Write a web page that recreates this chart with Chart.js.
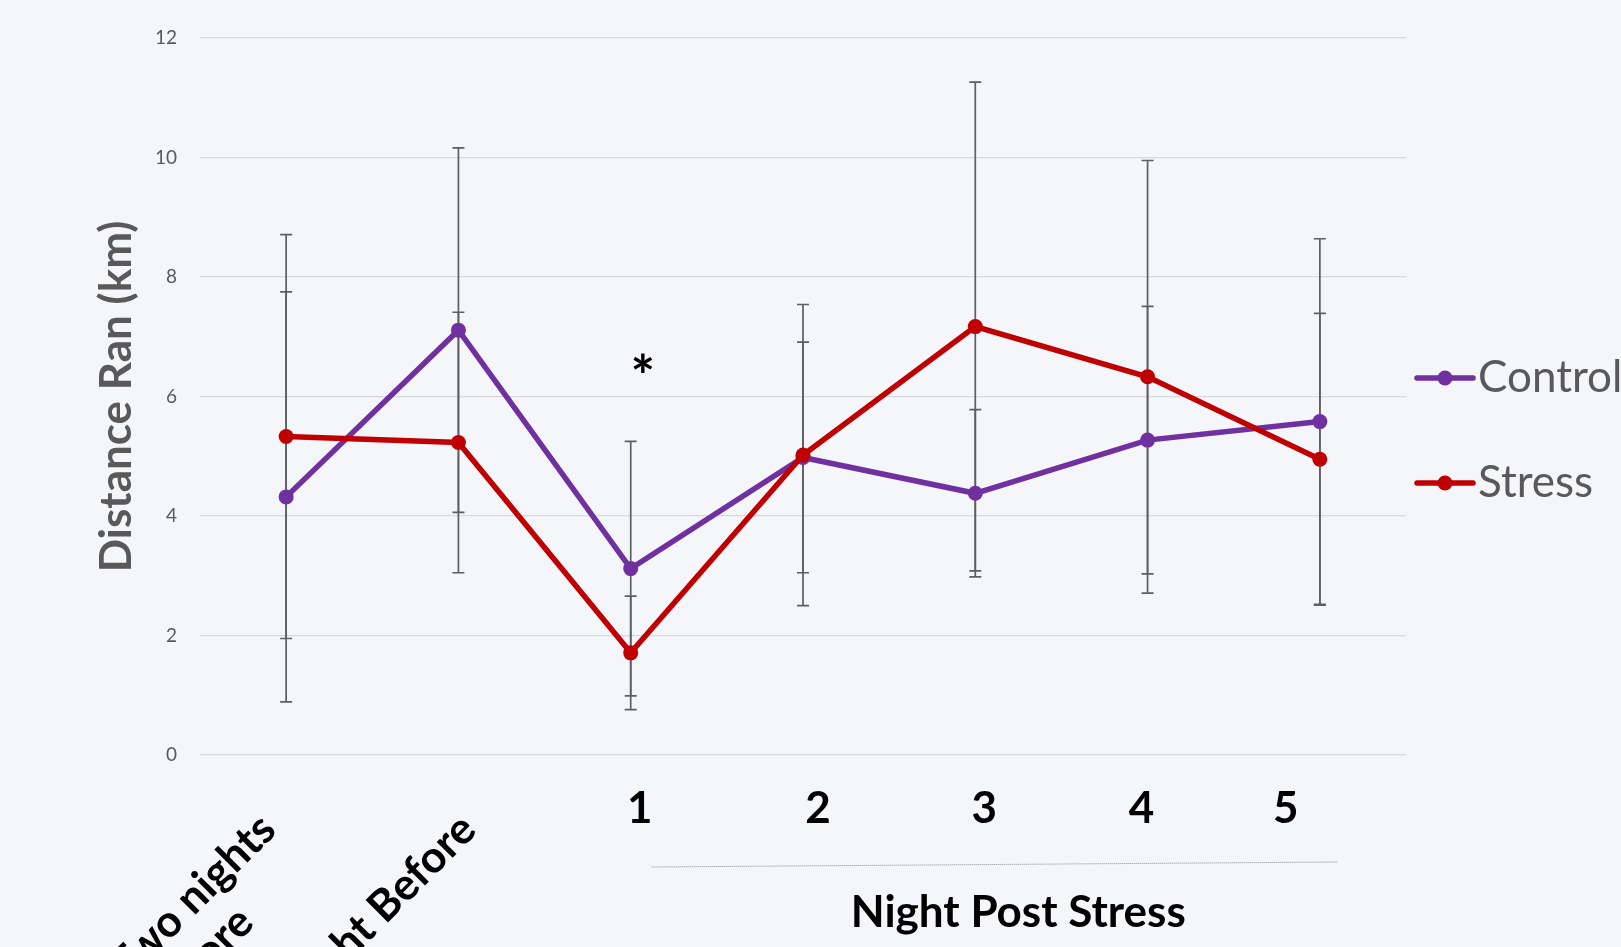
<!DOCTYPE html>
<html>
<head>
<meta charset="utf-8">
<title>Distance Ran</title>
<script src="https://cdn.jsdelivr.net/npm/chart.js@4.4.1/dist/chart.umd.min.js"></script>
<style>
  html, body { margin: 0; padding: 0; background: #F4F6FA; }
  #wrap { width: 1621px; height: 947px; position: relative; }
</style>
</head>
<body>
<div id="wrap"><canvas id="distanceChart"></canvas></div>
<script>
// categories (first label wraps onto two lines)
const nights = [['Two nights', 'Before'], 'Night Before', '1', '2', '3', '4', '5'];

// mean distance and error (km)
const controlMean = [4.32, 7.11, 3.12, 4.98, 4.38, 5.27, 5.58];
const controlErr  = [3.43, 3.05, 2.13, 1.93, 1.40, 2.24, 3.06];
const stressMean  = [5.33, 5.23, 1.71, 5.02, 7.17, 6.33, 4.95];
const stressErr   = [3.38, 2.18, 0.95, 2.52, 4.09, 3.62, 2.44];

const yTicks = [0, 2, 4, 6, 8, 10, 12];
const xTitle = 'Night Post Stress';
const yTitle = 'Distance Ran (km)';
const starNight = 2;   // night 1 is marked significant
const starLevel = 6.0;

const FONT = 'Lato, "Open Sans", sans-serif';
const GREY = '#595959';

// text boxes in the original sit a little off the category centres
const labelNudge = [-18, 10, 9, 15, 9, -6, -34];

const errorBars = {
    id: 'errorBars',
    beforeDatasetsDraw(chart) {
        const { ctx, scales: { y } } = chart;
        ctx.save();
        ctx.strokeStyle = '#5F5F5F';
        ctx.lineWidth = 1.7;
        chart.data.datasets.forEach((ds, di) => {
            const meta = chart.getDatasetMeta(di);
            meta.data.forEach((pt, i) => {
                const hi = y.getPixelForValue(ds.data[i] + ds.errors[i]);
                const lo = y.getPixelForValue(ds.data[i] - ds.errors[i]);
                ctx.beginPath();
                ctx.moveTo(pt.x, hi); ctx.lineTo(pt.x, lo);
                ctx.moveTo(pt.x - 6, hi); ctx.lineTo(pt.x + 6, hi);
                ctx.moveTo(pt.x - 6, lo); ctx.lineTo(pt.x + 6, lo);
                ctx.stroke();
            });
        });
        ctx.restore();
    }
};

const xLabels = {
    id: 'xLabels',
    afterDraw(chart) {
        const { ctx, chartArea, scales: { x, y } } = chart;
        const base = chartArea.bottom;
        ctx.save();
        ctx.fillStyle = '#000';
        ctx.font = 'bold 44px ' + FONT;

        nights.forEach((lab, i) => {
            const px = x.getPixelForValue(i) + labelNudge[i];
            if (i < 2) {
                const lines = Array.isArray(lab) ? lab : [lab];
                ctx.save();
                ctx.translate(px, base + 67);
                ctx.rotate(-Math.PI / 4);
                ctx.textBaseline = 'middle';
                ctx.textAlign = 'right';
                ctx.fillText(lines[0], 0, 0);
                const w = ctx.measureText(lines[0]).width;
                ctx.textAlign = 'left';
                for (let k = 1; k < lines.length; k++) {
                    ctx.fillText(lines[k], -w, k * 50);
                }
                ctx.restore();
            } else {
                ctx.textAlign = 'center';
                ctx.textBaseline = 'alphabetic';
                ctx.fillText(lab, px, base + 68);
            }
        });

        // dotted rule under the post-stress nights
        ctx.save();
        ctx.strokeStyle = '#8C8C8C';
        ctx.lineWidth = 1;
        ctx.setLineDash([1, 1]);
        ctx.beginPath();
        ctx.moveTo(x.getPixelForValue(2) + 21, base + 112);
        ctx.lineTo(x.getPixelForValue(6) + 18, base + 107);
        ctx.stroke();
        ctx.restore();

        ctx.textAlign = 'center';
        ctx.textBaseline = 'alphabetic';
        ctx.fillText(xTitle, (x.getPixelForValue(2) + x.getPixelForValue(6)) / 2 + 43, base + 172);

        // significance star
        ctx.font = 'bold 58px ' + FONT;
        ctx.fillText('*', x.getPixelForValue(starNight) + 12, y.getPixelForValue(starLevel));
        ctx.restore();
    }
};

const sideLegend = {
    id: 'sideLegend',
    afterDraw(chart) {
        const { ctx, chartArea } = chart;
        ctx.save();
        chart.data.datasets.forEach((ds, i) => {
            const x0 = chartArea.right + 11;
            const cy = chartArea.top + 340 + i * 105;
            ctx.strokeStyle = ds.borderColor;
            ctx.fillStyle = ds.borderColor;
            ctx.lineWidth = 5.5;
            ctx.lineCap = 'round';
            ctx.beginPath();
            ctx.moveTo(x0, cy); ctx.lineTo(x0 + 56, cy);
            ctx.stroke();
            ctx.beginPath();
            ctx.arc(x0 + 28, cy, 7.5, 0, Math.PI * 2);
            ctx.fill();
            ctx.fillStyle = GREY;
            ctx.font = '44px ' + FONT;
            ctx.textAlign = 'left';
            ctx.textBaseline = 'middle';
            ctx.fillText(ds.label, x0 + 61, cy);
        });
        ctx.restore();
    }
};

const ctx = document.getElementById('distanceChart').getContext('2d');
const chart = new Chart(ctx, {
    type: 'line',
    data: {
        labels: nights,
        datasets: [
            {
                label: 'Control',
                data: controlMean,
                errors: controlErr,
                borderColor: '#7030A0',
                backgroundColor: '#7030A0',
                borderWidth: 5.5,
                pointRadius: 7.5,
                pointBorderWidth: 0,
                pointHoverRadius: 7.5,
                tension: 0,
                order: 2
            },
            {
                label: 'Stress',
                data: stressMean,
                errors: stressErr,
                borderColor: '#C00000',
                backgroundColor: '#C00000',
                borderWidth: 5.5,
                pointRadius: 7.5,
                pointBorderWidth: 0,
                pointHoverRadius: 7.5,
                tension: 0,
                order: 1
            }
        ]
    },
    options: {
        responsive: true,
        maintainAspectRatio: false,
        animation: false,
        layout: {
            padding: { left: 90, right: 215, top: 38, bottom: 192 }
        },
        scales: {
            x: {
                type: 'category',
                display: false,
                offset: true
            },
            y: {
                min: 0,
                max: 12,
                afterBuildTicks: (s) => { s.ticks = yTicks.map(v => ({ value: v })); },
                afterFit: (s) => { s.width = 110; },
                border: { display: false },
                grid: { color: '#D9D9D9', lineWidth: 1.3, drawTicks: false },
                ticks: {
                    color: GREY,
                    padding: 23,
                    font: { family: FONT, size: 19 }
                },
                title: {
                    display: true,
                    text: yTitle,
                    color: GREY,
                    padding: 0,
                    font: { family: FONT, size: 44, weight: 'bold' }
                }
            }
        },
        plugins: {
            legend: { display: false },
            tooltip: { enabled: false }
        }
    },
    plugins: [errorBars, xLabels, sideLegend]
});
</script>
</body>
</html>
